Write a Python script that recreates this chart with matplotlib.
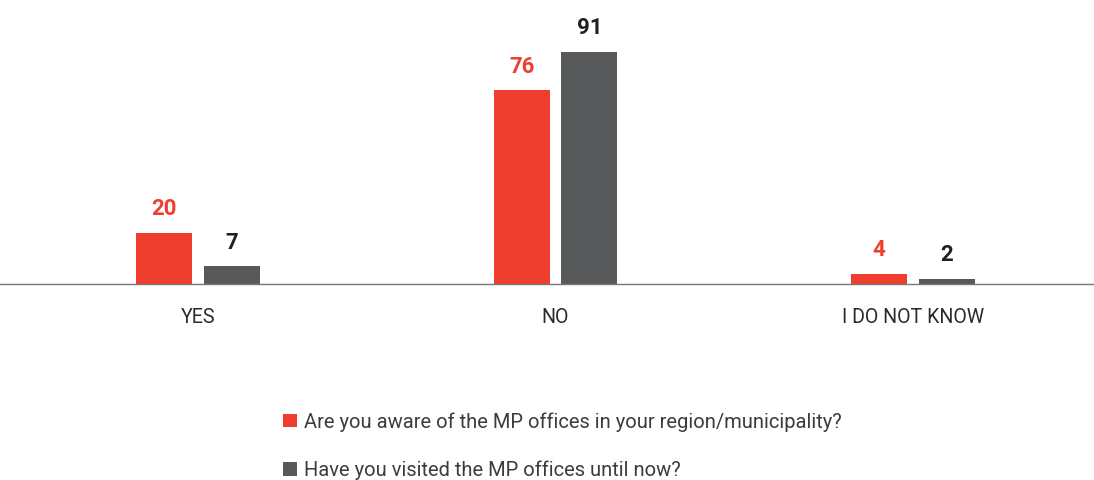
import matplotlib
matplotlib.use("Agg")
import matplotlib.pyplot as plt
import numpy as np

categories = ["YES", "NO", "I DO NOT KNOW"]
aware = [20, 76, 4]
visited = [7, 91, 2]
series_labels = ["Are you aware of the MP offices in your region/municipality?",
                 "Have you visited the MP offices until now?"]

RED = "#EF3E2E"
GRAY = "#58595B"
RED_TXT = "#EF3E2E"
GRAY_TXT = "#231F20"

plt.rcParams['font.family'] = ['Roboto', 'DejaVu Sans']

fig = plt.figure(figsize=(10.94, 4.80), dpi=100)
ax = fig.add_axes([0.0, 1 - 284/480, 1.0, (284 - 29)/480])

x = np.arange(len(categories))
w = 0.1575
off = 0.0945
b1 = ax.bar(x - off, aware, width=w, color=RED, label=series_labels[0])
b2 = ax.bar(x + off, visited, width=w, color=GRAY, label=series_labels[1])

for bars, vals, col in ((b1, aware, RED_TXT), (b2, visited, GRAY_TXT)):
    for r, v in zip(bars, vals):
        ax.annotate(str(v), (r.get_x() + r.get_width()/2, r.get_height()),
                    xytext=(0, 12.7), textcoords="offset points",
                    ha="center", va="baseline", fontsize=16,
                    fontweight="bold", color=col)

ax.set_xlim((5 - 202)/355.5, (1093 - 202)/355.5)
ax.set_ylim(0, 100)
ax.set_xticks(x)
ax.set_xticklabels(categories, fontsize=14.1, color="#2a2a2a")
ax.tick_params(axis="x", length=0, pad=17.5)
ax.set_yticks([])
for s in ("top", "right", "left"):
    ax.spines[s].set_visible(False)
ax.spines["bottom"].set_color("#777777")
ax.spines["bottom"].set_linewidth(1.0)
ax.patch.set_alpha(0)

fig.legend(handles=[b1, b2], labels=series_labels,
           loc="upper left", bbox_to_anchor=(275/1094, 1 - 404/480),
           frameon=False, handlelength=0.68, handleheight=0.68,
           handletextpad=0.35, labelspacing=1.45, borderaxespad=0,
           prop={"family": ["Roboto", "DejaVu Sans"], "weight": "normal", "size": 14.5},
           labelcolor="#3c3c3c")

fig.savefig("out.png", dpi=100)
